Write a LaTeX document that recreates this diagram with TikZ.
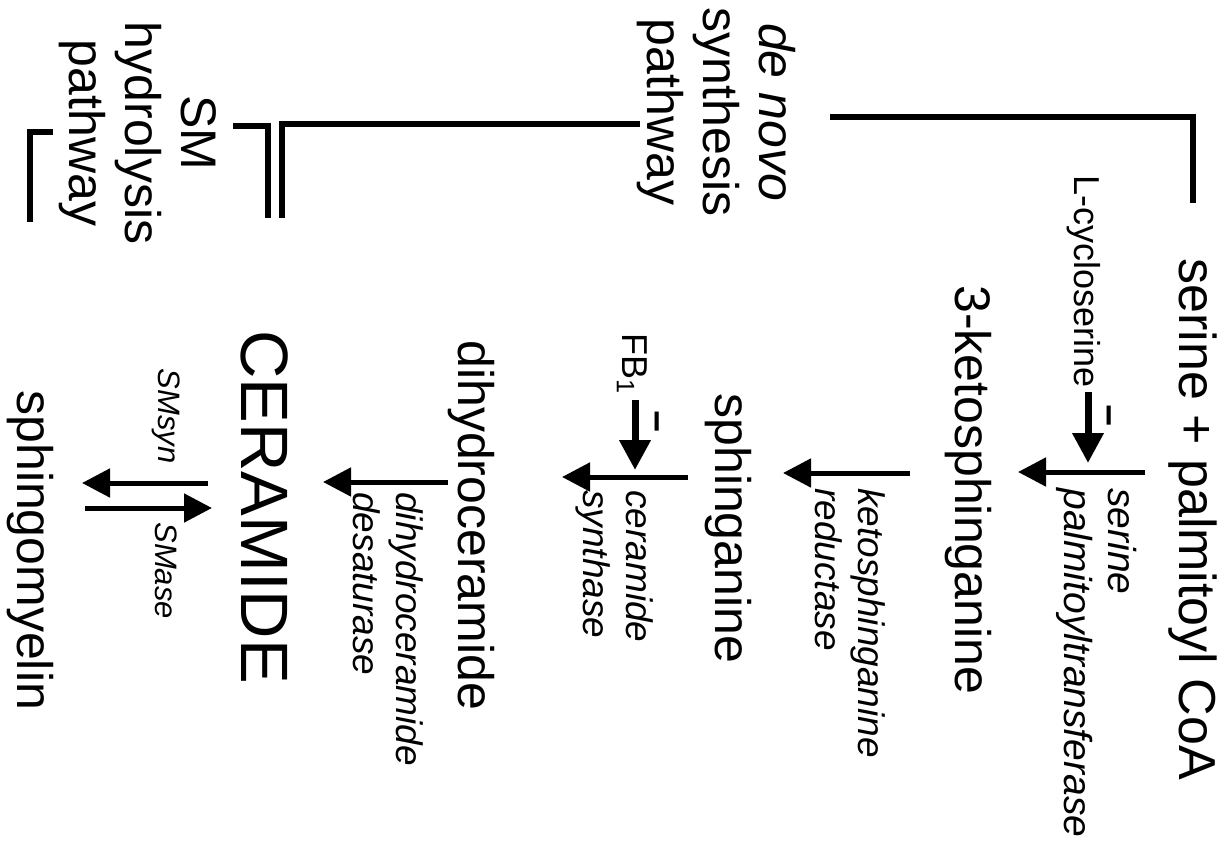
\documentclass[tikz,border=0pt]{standalone}
\usepackage{fontspec}
\setmainfont{Liberation Sans}
\usetikzlibrary{arrows.meta}

\begin{document}
\begin{tikzpicture}[x=0.5pt,y=-0.5pt]
    % `compound' is used for the metabolites, `enzyme' for the italic enzyme names.
    % `inhibitor' is used for L-cycloserine and FB1, `block' for their thick arrows.
    \tikzstyle{compound} = [rotate=-90,inner sep=0pt,anchor=west,font=\fontsize{25}{28}\selectfont]
    \tikzstyle{bigcompound} = [compound,font=\fontsize{33.5}{38}\selectfont]
    \tikzstyle{enzyme} = [rotate=-90,inner sep=0pt,anchor=west,align=left,font=\fontsize{18.5}{21.5}\selectfont\itshape]
    \tikzstyle{smenzyme} = [enzyme,font=\fontsize{15.5}{18}\selectfont\itshape]
    \tikzstyle{inhibitor} = [rotate=-90,inner sep=0pt,anchor=east,font=\fontsize{18}{20}\selectfont]
    \tikzstyle{pathway} = [rotate=-90,inner sep=0pt,align=center,font=\fontsize{25}{28}\selectfont]
    \tikzstyle{minus} = [rotate=-90,inner sep=0pt,font=\fontsize{19}{19}\selectfont\bfseries]
    \tikzstyle{reaction} = [line width=2.5pt,-{Triangle[length=14pt,width=14pt]}]
    \tikzstyle{block} = [line width=3.5pt,-{Triangle[length=15pt,width=15pt]}]
    \tikzstyle{bracket} = [line width=2.8pt]
    \useasboundingbox (0,0) rectangle (1225,846);
    %
    % metabolites
    \node[compound,font=\fontsize{26}{28}\selectfont] (serine) at (1193,258) {serine + palmitoyl CoA};
    \node[compound] (keto) at (968,285) {3-ketosphinganine};
    \node[compound] (sphinganine) at (728,393) {sphinganine};
    \node[compound] (dihydro) at (471,340) {dihydroceramide};
    \node[bigcompound] (ceramide) at (265,330) {CERAMIDE};
    \node[compound] (sm) at (30,390) {sphingomyelin};
    %
    % enzymes
    \node[enzyme,font=\fontsize{19.5}{22}\selectfont\itshape] (spt) at (1097,488) {serine\\palmitoyltransferase};
    \node[enzyme] (ksr) at (850,488) {ketosphinganine\\reductase};
    \node[enzyme] (cers) at (615,490) {ceramide\\synthase};
    \node[enzyme] (des) at (388,492) {dihydroceramide\\desaturase};
    \node[smenzyme,anchor=east] (smsyn) at (166,464) {SMsyn};
    \node[smenzyme] (smase) at (166,522) {SMase};
    %
    % inhibitors
    \node[inhibitor] (cyclo) at (1084,388) {L-cycloserine};
    \node[inhibitor] (fb) at (632,395) {FB\textsubscript{1}};
    \node[minus] (cyclominus) at (1104,416) {−};
    \node[minus] (fbminus) at (652,422) {−};
    %
    % pathway labels
    \node[pathway] (denovo) at (716,112) {\textit{de novo}\\synthesis\\pathway};
    \node[pathway] (hydro) at (138,133) {SM\\hydrolysis\\pathway};
    %
    % reaction arrows
    \coordinate (r1) at (1145,472);  \coordinate (r1e) at (1018,472);
    \coordinate (r2) at (910,473);   \coordinate (r2e) at (783,473);
    \coordinate (r3) at (688,477);   \coordinate (r3e) at (562,477);
    \coordinate (r4) at (448,482);   \coordinate (r4e) at (323,482);
    \coordinate (r5) at (208,483);   \coordinate (r5e) at (82,483);
    \coordinate (r6) at (85,508);    \coordinate (r6e) at (212,508);
    \draw[reaction] (r1) -- (r1e);
    \draw[reaction] (r2) -- (r2e);
    \draw[reaction] (r3) -- (r3e);
    \draw[reaction] (r4) -- (r4e);
    \draw[reaction] (r5) -- (r5e);
    \draw[reaction] (r6) -- (r6e);
    %
    % inhibition arrows
    \draw[block] (cyclo.south east -| 1088,0) ++(0,4) -- (1088,463);
    \draw[block] (fb.south east -| 635,0) ++(0,5) -- (635,470);
    %
    % brackets
    \coordinate (dn) at (830,117);  \coordinate (dnend) at (1193,203);
    \coordinate (sy) at (640,124);  \coordinate (syend) at (282,218);
    \coordinate (sh) at (233,126);  \coordinate (shend) at (268,218);
    \coordinate (hy) at (53,132);   \coordinate (hyend) at (30,222);
    \draw[bracket] (dn) -- (dn -| dnend) -- (dnend);
    \draw[bracket] (sy) -- (sy -| syend) -- (syend);
    \draw[bracket] (sh) -- (sh -| shend) -- (shend);
    \draw[bracket] (hy) -- (hy -| hyend) -- (hyend);
\end{tikzpicture}
\end{document}
